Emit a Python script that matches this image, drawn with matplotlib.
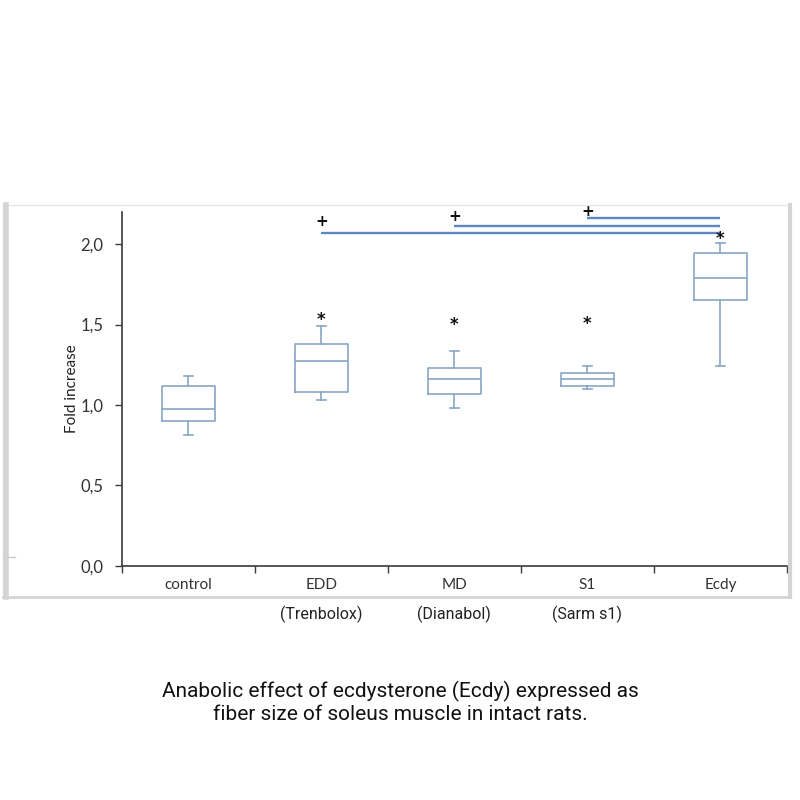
import matplotlib
matplotlib.use("Agg")
import matplotlib.pyplot as plt
from matplotlib.patches import Rectangle
from matplotlib.lines import Line2D

categories = ["control", "EDD", "MD", "S1", "Ecdy"]
sub_labels = ["", "(Trenbolox)", "(Dianabol)", "(Sarm s1)", ""]
whisker_low = [0.81, 1.03, 0.98, 1.10, 1.24]
q1 = [0.90, 1.08, 1.07, 1.12, 1.65]
median = [0.975, 1.275, 1.16, 1.16, 1.79]
q3 = [1.12, 1.38, 1.23, 1.20, 1.945]
whisker_high = [1.18, 1.49, 1.335, 1.24, 2.01]
star_y = [None, 1.54, 1.51, 1.515, 2.045]
# significance brackets: (start category index, end category index, y level, plus y)
sig_start = [1, 2, 3]
sig_end = [4, 4, 4]
sig_y = [2.072, 2.116, 2.164]
plus_y = [2.14, 2.175, 2.205]
yticks = [0.0, 0.5, 1.0, 1.5, 2.0]
ytick_labels = ["0,0", "0,5", "1,0", "1,5", "2,0"]

box_color = "#8aa6c6"
sig_color = "#5b87c2"
axis_color = "#3a3a3a"
font = "Lato"

fig = plt.figure(figsize=(8, 8), dpi=100)
fig.patch.set_facecolor("white")

# outer frame of the pasted chart
fig.add_artist(Rectangle((3 / 800, 1 - 597 / 800), 787 / 800, 392 / 800,
                         transform=fig.transFigure, fill=False,
                         edgecolor="#e6e6e6", lw=1.0))
fig.add_artist(Line2D([5.5 / 800, 5.5 / 800], [1 - 205 / 800, 1 - 597 / 800],
                      transform=fig.transFigure, color="#d4d4d4", lw=4))
fig.add_artist(Line2D([3 / 800, 790 / 800], [1 - 597 / 800, 1 - 597 / 800],
                      transform=fig.transFigure, color="#d4d4d4", lw=2))
fig.add_artist(Line2D([789.5 / 800, 789.5 / 800], [1 - 205 / 800, 1 - 597 / 800],
                      transform=fig.transFigure, color="#d4d4d4", lw=3))
fig.add_artist(Line2D([8 / 800, 15 / 800], [1 - 557 / 800, 1 - 557 / 800],
                      transform=fig.transFigure, color="#cccccc", lw=1))

ax = fig.add_axes([121.7 / 800, 1 - 565.7 / 800, (787 - 121.7) / 800, (565.7 - 212) / 800])
ax.set_facecolor("none")

stats = []
for i in range(len(categories)):
    stats.append(dict(label=categories[i], whislo=whisker_low[i], q1=q1[i],
                      med=median[i], q3=q3[i], whishi=whisker_high[i], fliers=[]))
positions = list(range(1, len(categories) + 1))
ax.bxp(stats, positions=positions, widths=0.4, showfliers=False,
       boxprops=dict(color=box_color, lw=1.2),
       medianprops=dict(color=box_color, lw=1.2),
       whiskerprops=dict(color=box_color, lw=1.2),
       capprops=dict(color=box_color, lw=1.2), capwidths=0.07)

for i, sy in enumerate(star_y):
    if sy is not None:
        ax.text(positions[i], sy - 0.01, "*", ha="center", va="center", fontsize=12,
                fontweight="bold", color="#111111", fontfamily="DejaVu Sans", zorder=5)

for s, e, y, py in zip(sig_start, sig_end, sig_y, plus_y):
    ax.plot([positions[s], positions[e]], [y, y], color=sig_color, lw=1.7,
            solid_capstyle="butt", clip_on=False)
    ax.text(positions[s], py, "+", ha="center", va="center", fontsize=11,
            fontweight="bold", color="#111111", fontfamily="DejaVu Sans",
            clip_on=False)

ax.set_xlim(0.5, len(categories) + 0.5)
ax.set_ylim(0, 2.2)
ax.set_yticks(yticks)
ax.set_yticklabels(ytick_labels, fontsize=12, fontfamily=font, color="#333333")
ax.set_xticks([p - 0.5 for p in positions] + [positions[-1] + 0.5])
ax.set_xticklabels([])
ax.set_xticks(positions, minor=True)
ax.set_xticklabels(categories, minor=True, fontsize=11, fontfamily=font, color="#333333")
ax.tick_params(axis="x", which="minor", length=0, pad=9)
ax.tick_params(axis="x", which="major", length=5, direction="out", color=axis_color, width=1)
ax.tick_params(axis="y", length=5, direction="out", color=axis_color, width=1, pad=8)

for side in ["top", "right"]:
    ax.spines[side].set_visible(False)
for side in ["left", "bottom"]:
    ax.spines[side].set_color(axis_color)
    ax.spines[side].set_linewidth(1.2)

ax.set_ylabel("Fold increase", fontsize=11, fontfamily=font, color="#222222", labelpad=1)

for i, lab in enumerate(sub_labels):
    if lab:
        ax.text(positions[i], -0.30, lab, transform=ax.transData, ha="center",
                va="center", fontsize=11.5, fontfamily="Roboto", color="#222222",
                clip_on=False)

fig.text(0.5, 1 - 691 / 800, "Anabolic effect of ecdysterone (Ecdy) expressed as",
         ha="center", va="center", fontsize=15, fontfamily="Roboto", color="#111111")
fig.text(0.5, 1 - 714 / 800, "fiber size of soleus muscle in intact rats.",
         ha="center", va="center", fontsize=15, fontfamily="Roboto", color="#111111")

fig.savefig("out.png", dpi=100, facecolor="white")
